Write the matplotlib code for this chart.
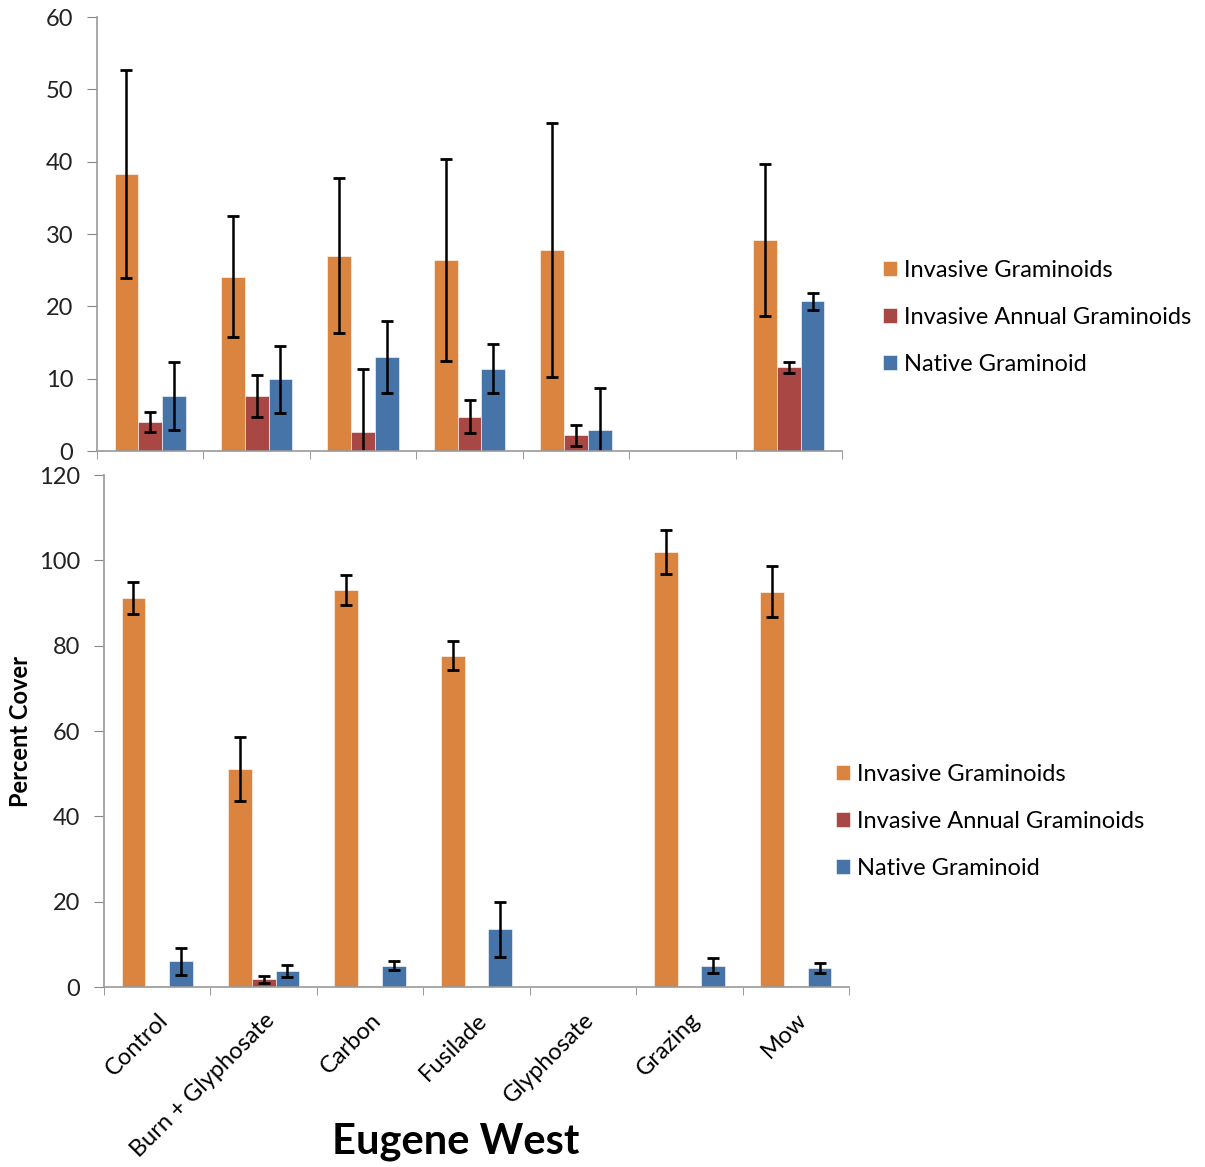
import numpy as np
import matplotlib
matplotlib.use('Agg')
import matplotlib.pyplot as plt

plt.rcParams['font.family'] = ['Lato', 'DejaVu Sans']

treatments = ['Control', 'Burn + Glyphosate', 'Carbon', 'Fusilade', 'Glyphosate', 'Grazing', 'Mow']
series = ['Invasive Graminoids', 'Invasive Annual Graminoids', 'Native Graminoid']
colors = ['#DA843F', '#A94744', '#4673A8']

# upper panel (no label on the axis)
top_invasive = [38.3, 24.1, 27.0, 26.4, 27.8, np.nan, 29.2]
top_invasive_err = [14.4, 8.4, 10.7, 14.0, 17.5, np.nan, 10.5]
top_annual = [4.05, 7.65, 2.6, 4.75, 2.15, np.nan, 11.55]
top_annual_err = [1.35, 2.9, 8.7, 2.25, 1.45, np.nan, 0.8]
top_native = [7.65, 9.9, 13.0, 11.4, 2.95, np.nan, 20.7]
top_native_err = [4.7, 4.6, 5.0, 3.4, 5.8, np.nan, 1.2]

# lower panel
bot_invasive = [91.2, 51.1, 93.1, 77.7, np.nan, 102.0, 92.7]
bot_invasive_err = [3.7, 7.6, 3.5, 3.4, np.nan, 5.15, 5.9]
bot_annual = [0.3, 1.8, 0.3, 0.3, np.nan, 0.3, 0.3]
bot_annual_err = [np.nan, 0.75, np.nan, np.nan, np.nan, np.nan, np.nan]
bot_native = [6.05, 3.8, 5.0, 13.5, np.nan, 5.0, 4.4]
bot_native_err = [3.2, 1.45, 1.05, 6.45, np.nan, 1.8, 1.2]


def draw_panel(ax, values, errors, ymax, ystep):
    x = np.arange(len(treatments))
    w = 0.223
    for i, (vals, errs) in enumerate(zip(values, errors)):
        ax.bar(x + (i - 1) * w, vals, w, color=colors[i], label=series[i],
               yerr=errs, error_kw=dict(ecolor='black', elinewidth=1.8, capsize=4, capthick=2),
               edgecolor='white', linewidth=0.4)
    ax.set_xlim(-0.5, len(treatments) - 0.5)
    ax.set_ylim(0, ymax)
    ax.set_yticks(np.arange(0, ymax + 1, ystep))
    ax.set_xticks(np.arange(-0.5, len(treatments)), minor=True)
    ax.set_xticks(x)
    ax.tick_params(axis='x', which='major', length=0)
    ax.tick_params(axis='x', which='minor', length=6, color='#888888', direction='out')
    ax.tick_params(axis='y', length=7, color='#888888', labelsize=17, colors='#222222', pad=10)
    for s in ['top', 'right']:
        ax.spines[s].set_visible(False)
    for s in ['left', 'bottom']:
        ax.spines[s].set_color('#999999')
        ax.spines[s].set_linewidth(1.2)


fig = plt.figure(figsize=(12.05, 11.67), dpi=100)
ax_top = fig.add_axes([0.0805, 0.6135, 0.6183, 0.3719])
ax_bot = fig.add_axes([0.0863, 0.1542, 0.6183, 0.4387])

draw_panel(ax_top, [top_invasive, top_annual, top_native],
           [top_invasive_err, top_annual_err, top_native_err], 60, 10)
ax_top.set_xticklabels([])

draw_panel(ax_bot, [bot_invasive, bot_annual, bot_native],
           [bot_invasive_err, bot_annual_err, bot_native_err], 120, 20)
ax_bot.set_xticklabels(treatments, rotation=45, ha='right', rotation_mode='anchor', fontsize=17)
ax_bot.tick_params(axis='x', which='major', pad=16)
ax_bot.set_ylabel('Percent Cover', fontsize=17, fontweight='bold')
ax_bot.yaxis.set_label_coords(-0.097, 0.5)

leg_kw = dict(frameon=False, fontsize=17, handlelength=0.6, handleheight=0.6,
              handletextpad=0.3, labelspacing=1.1, loc='upper left',
              borderpad=0, borderaxespad=0)
ax_top.legend(bbox_to_anchor=(0.7328, 0.7775), bbox_transform=fig.transFigure, **leg_kw)
ax_bot.legend(bbox_to_anchor=(0.6938, 0.3456), bbox_transform=fig.transFigure, **leg_kw)

fig.text(0.378, 0.0214, 'Eugene West', fontsize=30, fontweight='bold', ha='center', va='center')

fig.savefig('out.png', dpi=100)
